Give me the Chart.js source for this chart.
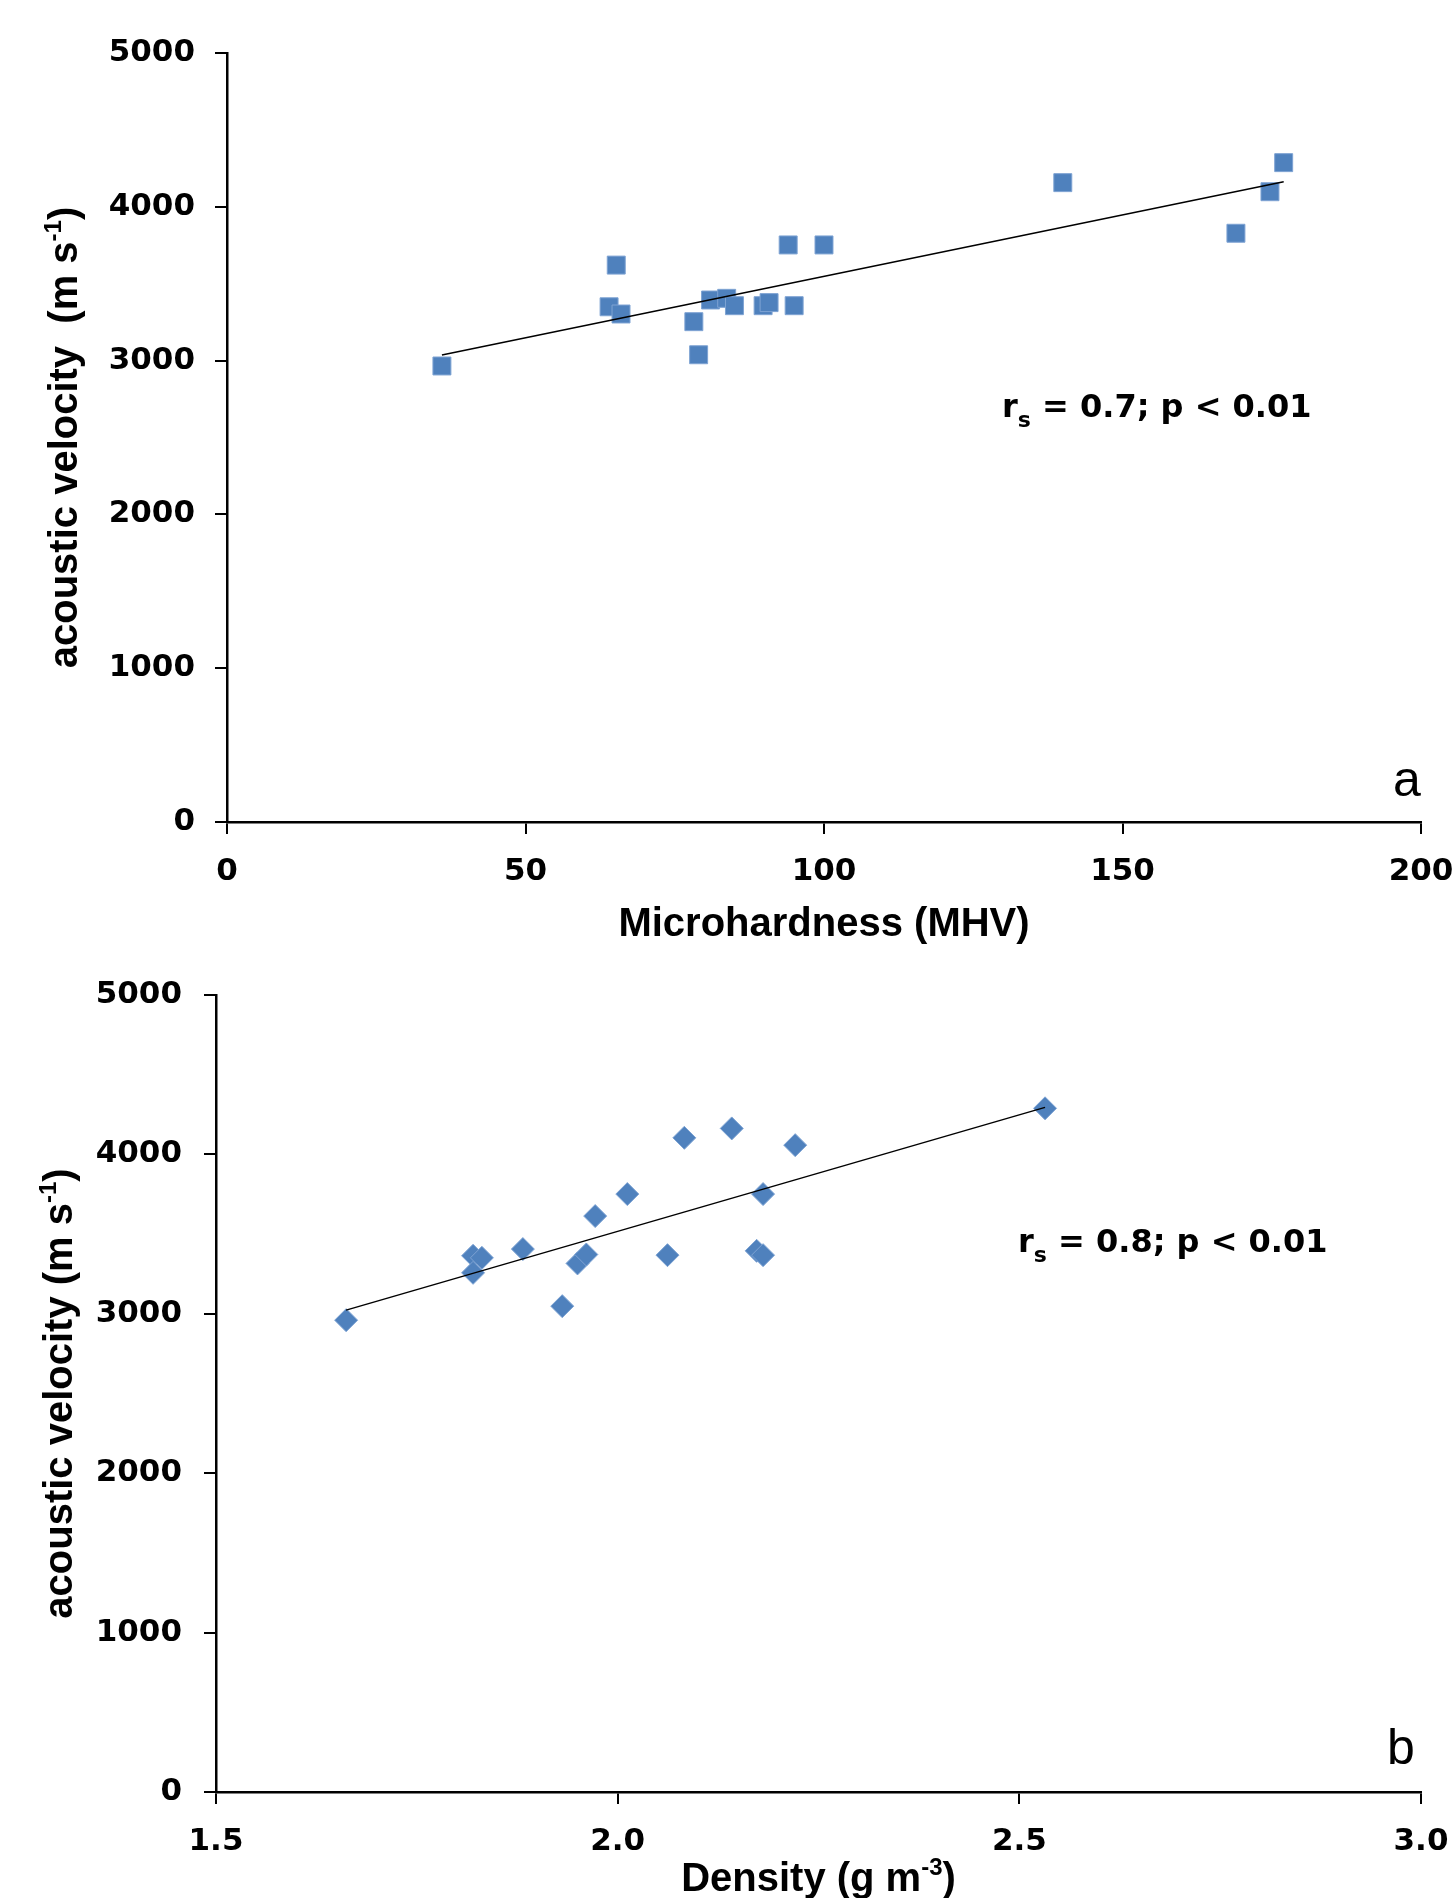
<!DOCTYPE html>
<html>
<head>
<meta charset="utf-8">
<script src="https://cdn.jsdelivr.net/npm/chart.js@4.4.1/dist/chart.umd.min.js"></script>
<style>
  body { margin: 0; background: #fff; }
  .panel { position: relative; width: 1455px; }
</style>
</head>
<body>
<div class="panel" style="height:950px"><canvas id="chartA"></canvas></div>
<div class="panel" style="height:948px"><canvas id="chartB"></canvas></div>
<script>
// panel a: microhardness vs acoustic velocity
const hardness  = [36, 64, 65.2, 66, 78.2, 79, 81, 83.7, 85, 89.8, 90.8, 94, 95, 100, 140, 169, 174.7, 177];
const velocityA = [2965, 3350, 3621, 3303, 3253, 3038, 3394, 3405, 3357, 3357, 3377, 3752, 3357, 3752, 4157, 3828, 4098, 4287];
const trendAx = [36, 177];
const trendAy = [3036, 4163];

// panel b: density vs acoustic velocity
const density   = [1.662, 1.820, 1.831, 1.820, 1.882, 1.931, 1.950, 1.961, 1.972, 2.012, 2.062, 2.083, 2.142, 2.173, 2.181, 2.181, 2.221, 2.532];
const velocityB = [2960, 3364, 3351, 3257, 3406, 3048, 3316, 3372, 3613, 3751, 3368, 4104, 4163, 3395, 3368, 3751, 4058, 4289];
const trendBx = [1.662, 2.532];
const trendBy = [3023, 4295];

const yTicks = [0, 1000, 2000, 3000, 4000, 5000];
const xTicksA = [0, 50, 100, 150, 200];
const xTicksB = [1.5, 2.0, 2.5, 3.0];

const blue = "#4F81BD";
const tickFont = { family: "DejaVu Sans", weight: "bold", size: 31 };
const titleFont = 'bold 40px "Liberation Sans"';

function pts(xs, ys) {
  return xs.map((x, i) => ({ x: x, y: ys[i] }));
}

// draws a run of text pieces (normal / sup / sub) centred on x
function richText(ctx, parts, x, y, align) {
  let total = 0;
  parts.forEach(p => {
    ctx.font = p.font;
    p.w = ctx.measureText(p.t).width;
    total += p.w;
  });
  let cx = align === "left" ? x : x - total / 2;
  parts.forEach(p => {
    ctx.font = p.font;
    ctx.fillText(p.t, cx, y + (p.dy || 0));
    cx += p.w;
  });
}

function axisGrid() {
  return { drawOnChartArea: false, color: "#000", lineWidth: 2, tickLength: 12 };
}

function makeChart(id, cfg) {
  const decor = {
    id: "decor",
    afterDraw(chart) {
      const ctx = chart.ctx;
      const a = chart.chartArea;
      ctx.save();
      ctx.fillStyle = "#000";
      ctx.textBaseline = "alphabetic";

      // y axis title, rotated
      ctx.save();
      ctx.translate(cfg.yTitleX, (a.top + a.bottom) / 2);
      ctx.rotate(-Math.PI / 2);
      richText(ctx, [
        { t: cfg.yTitle, font: titleFont },
        { t: "-1", font: 'bold 24px "Liberation Sans"', dy: -16 },
        { t: ")", font: titleFont }
      ], 0, 14, "center");
      ctx.restore();

      // x axis title
      richText(ctx, cfg.xTitle, (a.left + a.right) / 2, cfg.xTitleY, "center");

      // correlation note
      const nf = 'bold 32px "DejaVu Sans"';
      richText(ctx, [
        { t: "r", font: nf },
        { t: "s", font: 'bold 22px "DejaVu Sans"', dy: 10 },
        { t: " = " + cfg.rs + "; p < 0.01", font: nf }
      ], cfg.noteX, cfg.noteY, "left");

      // panel letter
      ctx.font = '50px "Liberation Sans"';
      ctx.fillText(cfg.letter, cfg.letterX, cfg.letterY);
      ctx.restore();
    }
  };

  return new Chart(document.getElementById(id), {
    type: "scatter",
    data: {
      datasets: [
        {
          data: pts(cfg.trendX, cfg.trendY),
          showLine: true,
          borderColor: "#000",
          borderWidth: 1.5,
          pointRadius: 0,
          order: 0
        },
        {
          data: pts(cfg.xs, cfg.ys),
          pointStyle: cfg.marker,
          pointRadius: cfg.radius,
          backgroundColor: blue,
          borderColor: "#7EA3D3",
          borderWidth: 1,
          order: 1
        }
      ]
    },
    options: {
      responsive: true,
      maintainAspectRatio: false,
      animation: false,
      events: [],
      layout: { padding: { top: cfg.top, right: 34, left: 0, bottom: 0 } },
      plugins: { legend: { display: false }, tooltip: { enabled: false } },
      scales: {
        x: {
          type: "linear",
          min: cfg.xTicks[0],
          max: cfg.xTicks[cfg.xTicks.length - 1],
          afterBuildTicks(s) { s.ticks = cfg.xTicks.map(v => ({ value: v })); },
          afterFit(s) {
            s.height = cfg.xHeight;
            s.paddingLeft = 0;
            s.paddingRight = 0;
          },
          ticks: {
            color: "#000",
            font: tickFont,
            padding: 19,
            maxRotation: 0,
            callback: cfg.xFmt
          },
          grid: axisGrid(),
          border: { color: "#000", width: 2.5 }
        },
        y: {
          type: "linear",
          min: 0,
          max: 5000,
          afterBuildTicks(s) { s.ticks = yTicks.map(v => ({ value: v })); },
          afterFit(s) { s.width = cfg.yWidth; },
          ticks: { color: "#000", font: tickFont, padding: cfg.yPad, callback: v => String(v) },
          grid: axisGrid(),
          border: { color: "#000", width: 2.5 }
        }
      }
    },
    plugins: [decor]
  });
}

makeChart("chartA", {
  xs: hardness, ys: velocityA, trendX: trendAx, trendY: trendAy,
  marker: "rect", radius: 12.7,
  xTicks: xTicksA, xFmt: v => String(v),
  top: 53, xHeight: 128, yWidth: 227, yPad: 20,
  yTitle: "acoustic velocity  (m s", yTitleX: 63,
  xTitle: [{ t: "Microhardness (MHV)", font: titleFont }], xTitleY: 936,
  rs: "0.7", noteX: 1002, noteY: 417,
  letter: "a", letterX: 1393, letterY: 796
});

makeChart("chartB", {
  xs: density, ys: velocityB, trendX: trendBx, trendY: trendBy,
  marker: "rectRot", radius: 11.5,
  xTicks: xTicksB, xFmt: v => v.toFixed(1),
  top: 45, xHeight: 106, yWidth: 216, yPad: 22,
  yTitle: "acoustic velocity (m s", yTitleX: 58,
  xTitle: [
    { t: "Density (g m", font: titleFont },
    { t: "-3", font: 'bold 24px "Liberation Sans"', dy: -16 },
    { t: ")", font: titleFont }
  ], xTitleY: 941,
  rs: "0.8", noteX: 1018, noteY: 302,
  letter: "b", letterX: 1387, letterY: 814
});
</script>
</body>
</html>
